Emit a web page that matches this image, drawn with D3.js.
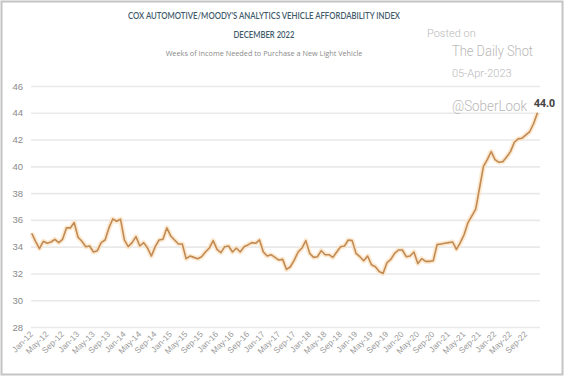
<!DOCTYPE html>
<html><head><meta charset="utf-8">
<script src="https://cdn.jsdelivr.net/npm/d3@7"></script>
<style>html,body{margin:0;padding:0;background:#fff;}svg{display:block;font-family:"Open Sans",Lato,sans-serif;}</style>
</head><body>
<svg id="c" width="564" height="376"></svg>
<script>
const startMonth = new Date(2012, 0, 1);
const values = [35.0,34.4,33.85,34.4,34.25,34.35,34.55,34.3,34.55,35.4,35.4,35.8,
34.7,34.4,34.0,34.05,33.6,33.7,34.3,34.5,35.4,36.07,35.9,36.05,
34.5,34.0,34.3,34.75,34.05,34.3,33.9,33.3,34.0,34.5,34.55,35.4,
34.8,34.5,34.2,34.2,33.1,33.3,33.2,33.1,33.25,33.6,33.9,34.45,
33.8,33.55,34.0,34.05,33.6,33.9,33.6,34.0,34.13,34.3,34.25,34.5,
33.6,33.3,33.4,33.2,33.0,33.05,32.3,32.5,33.0,33.6,33.9,34.45,
33.5,33.2,33.25,33.7,33.4,33.4,33.2,33.6,34.0,34.05,34.5,34.45,
33.5,33.25,32.95,33.3,32.65,32.5,32.15,32.0,32.8,33.05,33.5,33.75,
33.75,33.25,33.3,33.6,32.75,33.1,32.9,32.9,32.95,34.15,34.2,34.25,
34.3,34.35,33.8,34.3,34.9,35.8,36.3,36.8,38.4,40.0,40.5,41.1,
40.5,40.3,40.35,40.7,41.1,41.8,42.05,42.1,42.35,42.6,43.2,44.0];
const xTickLabels = ["Jan-12","May-12","Sep-12","Jan-13","May-13","Sep-13","Jan-14","May-14","Sep-14",
"Jan-15","May-15","Sep-15","Jan-16","May-16","Sep-16","Jan-17","May-17","Sep-17","Jan-18","May-18","Sep-18",
"Jan-19","May-19","Sep-19","Jan-20","May-20","Sep-20","Jan-21","May-21","Sep-21","Jan-22","May-22","Sep-22"];
const yTicks = [28,30,32,34,36,38,40,42,44,46];
const title = "COX AUTOMOTIVE/MOODY'S ANALYTICS VEHICLE AFFORDABILITY INDEX";
const subtitle = "DECEMBER 2022";
const caption = "Weeks of Income Needed to Purchase a New Light Vehicle";
const lastLabel = "44.0";

const fmt = d3.timeFormat("%b-%y");
const months = values.map((v,i)=>fmt(d3.timeMonth.offset(startMonth,i)));
const data = months.map((m,i)=>({m, v: values[i]}));

const svg = d3.select("#c");
svg.append("rect").attr("x",1.5).attr("y",1.5).attr("width",561).attr("height",373)
  .attr("fill","#fff").attr("stroke","#c4c4c4").attr("stroke-width",2);

const x = d3.scalePoint().domain(months).range([31.7, 537.5]);
const y = d3.scaleLinear().domain([28,46]).range([327,86]);

// grid
const yAxis = d3.axisLeft(y).tickValues(yTicks).tickSize(-(540-31)).tickFormat(d=>d).tickPadding(8);
const gy = svg.append("g").attr("transform","translate(31,0)").call(yAxis);
gy.select(".domain").remove();
gy.selectAll(".tick line").attr("stroke","#e9e9e9").attr("stroke-width",1.6);
gy.selectAll(".tick text").attr("fill","#8a8a8a").attr("font-size",9.5).attr("x",-8);

const xAxis = d3.axisBottom(x).tickValues(xTickLabels).tickSize(0).tickPadding(0);
const gx = svg.append("g").attr("transform","translate(0,332)").call(xAxis);
gx.select(".domain").remove();
gx.selectAll(".tick text").attr("fill","#9a9a9a").attr("font-size",8.4)
  .attr("text-anchor","end").attr("dy","0.35em").attr("transform","rotate(-45)").attr("y",0).attr("x",-1);

const line = d3.line().x(d=>x(d.m)).y(d=>y(d.v));
svg.append("path").datum(data).attr("d",line).attr("fill","none")
  .attr("stroke","#fbe3c6").attr("stroke-width",5).attr("stroke-linejoin","round").attr("opacity",0.8);
svg.append("path").datum(data).attr("d",line).attr("fill","none")
  .attr("stroke","#c28a52").attr("stroke-width",1.6).attr("stroke-linejoin","round");

svg.append("text").attr("x",x(months[months.length-1])+7).attr("y",y(values[values.length-1])-6)
  .attr("text-anchor","middle").attr("font-size",10.5).attr("font-weight","bold").attr("fill","#444").text(lastLabel);

// titles
svg.append("text").attr("x",264).attr("y",19).attr("text-anchor","middle").attr("font-size",9)
  .attr("font-weight","600").attr("fill","#3f5b6b").attr("font-family","Lato, sans-serif")
  .attr("textLength",272).attr("lengthAdjust","spacingAndGlyphs").text(title);
svg.append("text").attr("x",264).attr("y",38).attr("text-anchor","middle").attr("font-size",9)
  .attr("font-weight","600").attr("fill","#3f5b6b").attr("font-family","Lato, sans-serif")
  .attr("textLength",61).attr("lengthAdjust","spacingAndGlyphs").text(subtitle);
svg.append("text").attr("x",264).attr("y",56).attr("text-anchor","middle").attr("font-size",7.3)
  .attr("fill","#8a8a8a").text(caption);

// watermark
const wm = svg.append("g").attr("fill","#b8b8b8").attr("font-family","Roboto, sans-serif").attr("font-weight",300);
wm.append("text").attr("x",427).attr("y",37).attr("font-size",11).text("Posted on");
wm.append("text").attr("x",452).attr("y",56).attr("font-size",15)
  .attr("textLength",81).attr("lengthAdjust","spacingAndGlyphs").text("The Daily Shot");
wm.append("text").attr("x",452).attr("y",77).attr("font-size",11).text("05-Apr-2023");
wm.append("text").attr("x",452).attr("y",111).attr("font-size",14.5)
  .attr("textLength",75).attr("lengthAdjust","spacingAndGlyphs").text("@SoberLook");
</script>
</body></html>
